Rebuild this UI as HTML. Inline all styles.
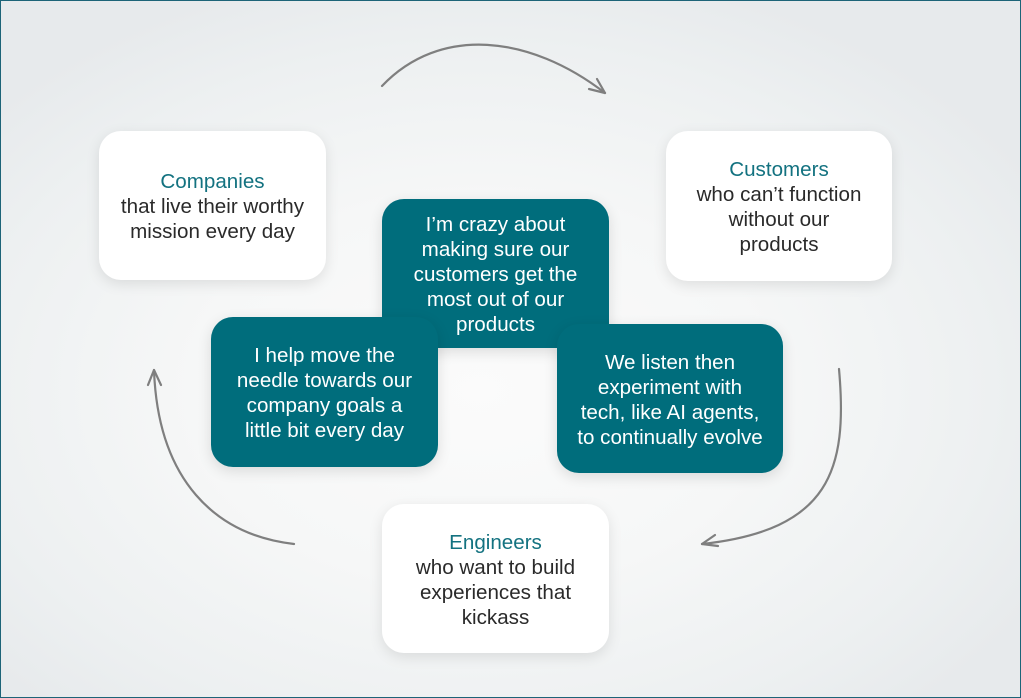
<!DOCTYPE html>
<html>
<head>
<meta charset="utf-8">
<style>
  html, body { margin:0; padding:0; }
  body {
    width:1021px; height:698px; overflow:hidden; position:relative;
    background: radial-gradient(ellipse 640px 430px at 480px 390px, #fbfbfb 0%, #f6f7f7 45%, #edf0f1 80%, #e7eaec 100%);
  }
  .border {
    position:absolute; left:0; top:0; width:1021px; height:698px; box-sizing:border-box;
    border:1px solid #1d6478; pointer-events:none;
  }
  .box {
    position:absolute; box-sizing:border-box;
    border-radius:22px;
    display:flex; flex-direction:column; align-items:center; justify-content:center;
    text-align:center; padding-top:2px;
    font-family:"Liberation Sans", sans-serif;
    font-size:20.6px; line-height:25px;
  }
  .white { background:#ffffff; color:#2a2a2a; box-shadow:0 4px 14px rgba(0,0,0,0.10); }
  .teal { background:#006d7c; color:#ffffff; box-shadow:0 4px 14px rgba(0,0,0,0.12); }
  .h { color:#137280; }
  svg { position:absolute; left:0; top:0; }
</style>
</head>
<body>
  <svg width="1021" height="698" viewBox="0 0 1021 698">
    <g fill="none" stroke="#7f7f7f" stroke-width="2.2" stroke-linecap="round" stroke-linejoin="round">
      <path d="M382,86 C440,25 530,35 605,93"/>
      <path d="M589,89 L605,93 L597,79"/>
      <path d="M839,369 C848,470 830,530 702,544"/>
      <path d="M715,535 L702,544 L718,546"/>
      <path d="M294,544 C215,535 158,480 154,370"/>
      <path d="M148,385 L154,370 L161,385"/>
    </g>
  </svg>

  <div class="box white" style="left:99px;top:131px;width:227px;height:149px;">
    <div class="h">Companies</div>
    <div>that live their worthy</div>
    <div>mission every day</div>
  </div>

  <div class="box white" style="left:666px;top:131px;width:226px;height:150px;">
    <div class="h">Customers</div>
    <div>who can’t function</div>
    <div>without our</div>
    <div>products</div>
  </div>

  <div class="box white" style="left:382px;top:504px;width:227px;height:149px;">
    <div class="h">Engineers</div>
    <div>who want to build</div>
    <div>experiences that</div>
    <div>kickass</div>
  </div>

  <div class="box teal" style="left:382px;top:199px;width:227px;height:149px;">
    <div>I’m crazy about</div>
    <div>making sure our</div>
    <div>customers get the</div>
    <div>most out of our</div>
    <div>products</div>
  </div>

  <div class="box teal" style="left:211px;top:317px;width:227px;height:150px;">
    <div>I help move the</div>
    <div>needle towards our</div>
    <div>company goals a</div>
    <div>little bit every day</div>
  </div>

  <div class="box teal" style="left:557px;top:324px;width:226px;height:149px;">
    <div>We listen then</div>
    <div>experiment with</div>
    <div>tech, like AI agents,</div>
    <div>to continually evolve</div>
  </div>

  <div class="border"></div>
</body>
</html>
